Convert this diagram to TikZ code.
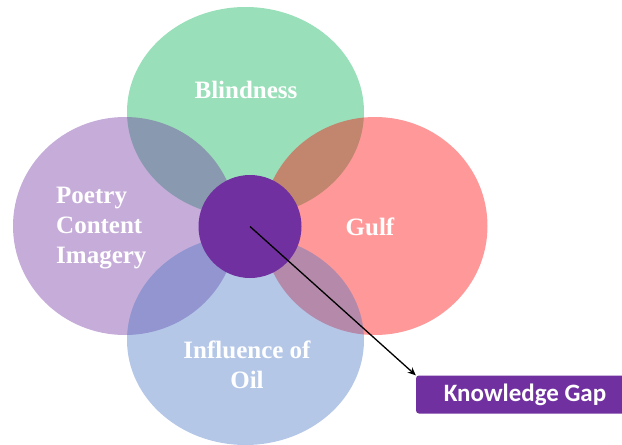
\documentclass[tikz,border=0pt]{standalone}
\usepackage{fontspec}
\newfontfamily\petalfont{Liberation Serif}
\newfontfamily\gapfont{Carlito}
\usetikzlibrary{arrows.meta}

\definecolor{greenpetal}{RGB}{0,176,80}
\definecolor{purplepetal}{RGB}{112,48,160}
\definecolor{redpetal}{RGB}{255,0,0}
\definecolor{bluepetal}{RGB}{68,114,196}
\definecolor{hubpurple}{RGB}{112,48,160}

\tikzset{
  petal/.style={fill opacity=0.4},
  petaltext/.style={text=white, inner sep=0pt, font=\petalfont\bfseries\fontsize{25}{30}\selectfont},
  gapbox/.style={rectangle, rounded corners=3pt, fill=hubpurple, text=white,
    minimum width=218pt, minimum height=38pt, font=\gapfont\bfseries\fontsize{25}{30}\selectfont}
}

\begin{document}
\begin{tikzpicture}[x=1pt,y=-1pt]
  \clip (0,0) rectangle (622,445);
  % four overlapping petals
  \fill[petal, fill=greenpetal] (245.5,112) ellipse [x radius=118.5pt, y radius=105pt];
  \fill[petal, fill=purplepetal] (125,226) ellipse [x radius=112pt, y radius=109pt];
  \fill[petal, fill=redpetal] (375,226) ellipse [x radius=112.5pt, y radius=109pt];
  \fill[petal, fill=bluepetal] (245.5,340) ellipse [x radius=118.5pt, y radius=105pt];
  \node[circle, fill=hubpurple, minimum size=103pt, inner sep=0pt] (hub) at (250,226.5) {};

  \node[petaltext] (blind) at (246,90) {Blindness};
  \node[petaltext, anchor=west, align=left] (poetry) at (56,228) {Poetry\\Content\\Imagery};
  \node[petaltext] (gulf) at (370,227) {Gulf};
  \node[petaltext, align=center] (oil) at (247,364.5) {Influence of\\Oil};

  \node[gapbox] (gap) at (525,394.5) {Knowledge Gap};
  \draw [-{Stealth[length=8pt,width=7pt]}, line width=1.3pt] (hub.center) -- (gap.north west);
\end{tikzpicture}
\end{document}
